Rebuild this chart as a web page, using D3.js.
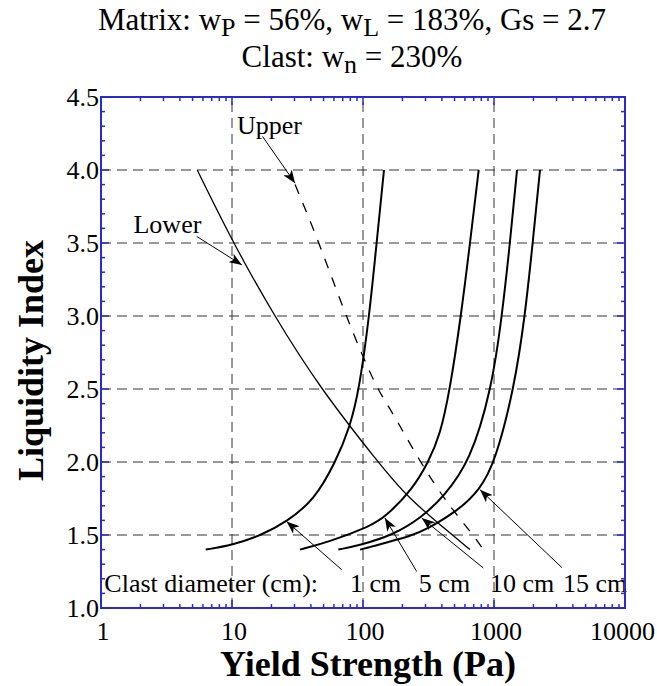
<!DOCTYPE html>
<html>
<head>
<meta charset="utf-8">
<script src="https://cdn.jsdelivr.net/npm/d3@7"></script>
<style>
  body { margin: 0; background: #fff; }
  svg { font-family: "Liberation Serif", "Times New Roman", Times, serif; }
</style>
</head>
<body>
<div id="chart"></div>
<script>
// curves: [yield strength (Pa), liquidity index]
const clast1cm = [[6.3, 1.40], [10, 1.43], [16.9, 1.50], [26.1, 1.59], [42.5, 1.74], [61.8, 2.0], [79.6, 2.24], [93.7, 2.5], [111.7, 3.0], [127, 3.5], [144.6, 4.0]];
const clast5cm = [[33, 1.40], [56, 1.455], [113, 1.56], [147, 1.62], [242, 1.82], [315, 2.0], [387, 2.18], [462, 2.5], [560, 3.0], [656, 3.5], [764, 4.0]];
const clast10cm = [[64.8, 1.40], [95, 1.43], [170, 1.50], [280, 1.62], [410, 1.76], [656, 2.0], [959, 2.5], [1151, 3.0], [1324, 3.5], [1499, 4.0]];
const clast15cm = [[95, 1.40], [249, 1.50], [306, 1.54], [519, 1.66], [782, 1.81], [1018, 2.0], [1422, 2.5], [1725, 3.0], [1974, 3.5], [2245, 4.0]];
const lowerBound = [[5.43, 4.0], [10.2, 3.5], [21, 3.0], [47.5, 2.5], [130, 2.0], [216, 1.76], [481, 1.5], [656, 1.40]];
const upperBound = [[30.3, 3.9], [46.4, 3.5], [73.8, 3.0], [127, 2.5], [161, 2.37], [272, 2.0], [445, 1.71], [695, 1.5], [829, 1.40]];

const xTicks = [1, 10, 100, 1000, 10000];
const yTicks = [1.0, 1.5, 2.0, 2.5, 3.0, 3.5, 4.0, 4.5];
const xGrid = [10, 100, 1000];
const yGrid = [1.5, 2.0, 2.5, 3.0, 3.5, 4.0];

// annotation labels: [text, x value, LI value]
const labels = [
  ["Upper", 10.9, 4.25],
  ["Lower", 1.77, 3.57],
  ["Clast diameter (cm):", 1.06, 1.113],
  ["1 cm", 79.6, 1.113],
  ["5 cm", 267, 1.113],
  ["10 cm", 932, 1.113],
  ["15 cm", 3363, 1.113]
];
// arrows: [from x, from LI, to x, to LI]
const arrows = [
  [17.1, 4.23, 30.3, 3.91],
  [5.38, 3.545, 11.9, 3.35],
  [68.8, 1.262, 26.1, 1.593],
  [257, 1.25, 147, 1.616],
  [829, 1.274, 281, 1.616],
  [3304, 1.276, 782, 1.81]
];

const width = 657, height = 686;
const margin = { top: 97, right: 32, bottom: 78, left: 101 };
const blue = "#2a2ad0";

const svg = d3.select("#chart").append("svg")
  .attr("width", width)
  .attr("height", height);

const x = d3.scaleLog().domain([1, 10000]).range([margin.left, width - margin.right]);
const y = d3.scaleLinear().domain([1, 4.5]).range([height - margin.bottom, margin.top]);

// title
const title = svg.append("g").attr("font-size", 31).attr("text-anchor", "middle");
const t1 = title.append("text").attr("x", 352).attr("y", 30);
t1.append("tspan").text("Matrix: w");
t1.append("tspan").attr("dy", 6).attr("font-size", 26).text("P");
t1.append("tspan").attr("dy", -6).text(" = 56%, w");
t1.append("tspan").attr("dy", 6).attr("font-size", 26).text("L");
t1.append("tspan").attr("dy", -6).text(" = 183%, Gs = 2.7");
const t2 = title.append("text").attr("x", 352).attr("y", 67);
t2.append("tspan").text("Clast: w");
t2.append("tspan").attr("dy", 6).attr("font-size", 26).text("n");
t2.append("tspan").attr("dy", -6).text(" = 230%");

// grid
const grid = svg.append("g")
  .attr("stroke", "#333")
  .attr("stroke-width", 1)
  .attr("stroke-dasharray", "10,6");
grid.selectAll(".gx").data(xGrid).join("line")
  .attr("x1", d => x(d)).attr("x2", d => x(d))
  .attr("y1", y(1)).attr("y2", y(4.5));
grid.selectAll(".gy").data(yGrid).join("line")
  .attr("y1", d => y(d)).attr("y2", d => y(d))
  .attr("x1", x(1)).attr("x2", x(10000));

// arrow marker
svg.append("defs").append("marker")
  .attr("id", "head")
  .attr("viewBox", "0 -5 13 10")
  .attr("refX", 13).attr("refY", 0)
  .attr("markerWidth", 13).attr("markerHeight", 10)
  .attr("markerUnits", "userSpaceOnUse")
  .attr("orient", "auto")
  .append("path")
  .attr("d", "M0,-5L13,0L0,5L3.5,0Z")
  .attr("fill", "#000");

const line = d3.line()
  .x(d => x(d[0]))
  .y(d => y(d[1]))
  .curve(d3.curveBasis);

const curves = svg.append("g").attr("fill", "none").attr("stroke", "#000");
[clast1cm, clast5cm, clast10cm, clast15cm].forEach(c => {
  curves.append("path").attr("d", line(c)).attr("stroke-width", 2);
});
curves.append("path").attr("d", line(lowerBound)).attr("stroke-width", 1.3);
curves.append("path").attr("d", line(upperBound)).attr("stroke-width", 1.3)
  .attr("stroke-dasharray", "10,10");

svg.append("g").attr("stroke", "#000").attr("stroke-width", 1)
  .selectAll("line").data(arrows).join("line")
  .attr("x1", d => x(d[0])).attr("y1", d => y(d[1]))
  .attr("x2", d => x(d[2])).attr("y2", d => y(d[3]))
  .attr("marker-end", "url(#head)");

svg.append("g").attr("font-size", 26)
  .selectAll("text").data(labels).join("text")
  .attr("x", d => x(d[1])).attr("y", d => y(d[2]))
  .text(d => d[0]);

// frame with ticks
const frame = svg.append("g").attr("stroke", blue).attr("stroke-width", 1.5);
frame.append("rect")
  .attr("x", x(1)).attr("y", y(4.5))
  .attr("width", x(10000) - x(1)).attr("height", y(1) - y(4.5))
  .attr("fill", "none").attr("stroke-width", 2);

const xMinor = [];
for (let p = 0; p < 4; p++) for (let k = 2; k <= 9; k++) xMinor.push(k * Math.pow(10, p));
const yMinor = d3.range(10, 46).map(v => v / 10).filter(v => yTicks.indexOf(v) < 0);

frame.selectAll(".xt").data(xTicks.map(v => [v, 8]).concat(xMinor.map(v => [v, 4]))).join(enter => {
  const g = enter.append("g");
  g.append("line").attr("x1", d => x(d[0])).attr("x2", d => x(d[0]))
    .attr("y1", y(1)).attr("y2", d => y(1) - d[1]);
  g.append("line").attr("x1", d => x(d[0])).attr("x2", d => x(d[0]))
    .attr("y1", y(4.5)).attr("y2", d => y(4.5) + d[1]);
  return g;
});
frame.selectAll(".yt").data(yTicks.map(v => [v, 8]).concat(yMinor.map(v => [v, 4]))).join(enter => {
  const g = enter.append("g");
  g.append("line").attr("y1", d => y(d[0])).attr("y2", d => y(d[0]))
    .attr("x1", x(1)).attr("x2", d => x(1) + d[1]);
  g.append("line").attr("y1", d => y(d[0])).attr("y2", d => y(d[0]))
    .attr("x1", x(10000)).attr("x2", d => x(10000) - d[1]);
  return g;
});

// tick labels
svg.append("g").attr("font-size", 26)
  .selectAll("text").data(xTicks).join("text")
  .attr("text-anchor", d => d === 10000 ? "end" : "middle")
  .attr("x", d => d === 10000 ? width - 2 : x(d) + 2)
  .attr("y", y(1) + 32)
  .text(d => d);
svg.append("g").attr("font-size", 26).attr("text-anchor", "end")
  .selectAll("text").data(yTicks).join("text")
  .attr("x", x(1) - 2).attr("y", d => y(d) + 9)
  .text(d => d3.format(".1f")(d));

// axis titles
svg.append("text")
  .attr("x", (x(1) + x(10000)) / 2 + 5).attr("y", 676)
  .attr("text-anchor", "middle").attr("font-size", 36).attr("font-weight", "bold")
  .text("Yield Strength (Pa)");
svg.append("text")
  .attr("transform", `translate(43,${(y(1) + y(4.5)) / 2 + 8}) rotate(-90)`)
  .attr("text-anchor", "middle").attr("font-size", 36).attr("font-weight", "bold")
  .text("Liquidity Index");
</script>
</body>
</html>
